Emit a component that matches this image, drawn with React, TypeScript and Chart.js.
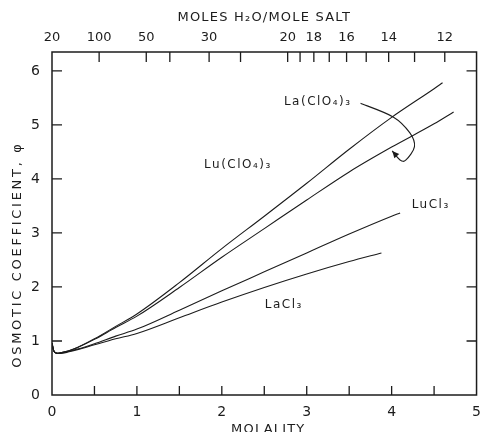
import React, { useEffect, useRef } from "react";
import { Chart, registerables } from "chart.js";

Chart.register(...registerables);

// ---- data (molality, osmotic coefficient) ----
const luClO4Molality = [0, 0.02, 0.06, 0.1, 0.2, 0.3, 0.5, 0.75, 1.0, 1.5, 2.0, 2.5, 3.0, 3.5, 4.0, 4.5, 4.6];
const luClO4Phi = [0.96, 0.82, 0.77, 0.78, 0.82, 0.88, 1.04, 1.27, 1.5, 2.08, 2.71, 3.31, 3.92, 4.55, 5.14, 5.67, 5.78];

const laClO4Molality = [0, 0.02, 0.06, 0.1, 0.2, 0.3, 0.5, 0.75, 1.0, 1.5, 2.0, 2.5, 3.0, 3.5, 4.0, 4.5, 4.73];
const laClO4Phi = [0.96, 0.82, 0.77, 0.78, 0.82, 0.88, 1.03, 1.25, 1.46, 1.99, 2.55, 3.08, 3.61, 4.13, 4.59, 5.02, 5.24];

const luCl3Molality = [0, 0.02, 0.06, 0.1, 0.2, 0.3, 0.5, 0.75, 1.0, 1.5, 2.0, 2.5, 3.0, 3.5, 4.0, 4.1];
const luCl3Phi = [0.96, 0.82, 0.77, 0.78, 0.81, 0.85, 0.95, 1.09, 1.22, 1.57, 1.93, 2.28, 2.63, 2.98, 3.31, 3.37];

const laCl3Molality = [0, 0.02, 0.06, 0.1, 0.2, 0.3, 0.5, 0.75, 1.0, 1.5, 2.0, 2.5, 3.0, 3.5, 3.88];
const laCl3Phi = [0.96, 0.82, 0.77, 0.77, 0.8, 0.84, 0.93, 1.04, 1.14, 1.43, 1.72, 1.99, 2.24, 2.47, 2.63];

const seriesNames = ["Lu(ClO₄)₃", "La(ClO₄)₃", "LuCl₃", "LaCl₃"];

// ---- axes ----
const xMin = 0;
const xMax = 5;
const xStep = 0.5;
const yMin = 0;
const yMax = 6.35;
const yStep = 1;

// top axis: moles H2O per mole salt, placed at molality = 55.51 / n
const WATER_MOLALITY = 55.51;
const waterMoles = [100, 50, 40, 30, 25, 20, 19, 18, 17, 16, 15, 14, 13, 12];
const waterLabels = ["100", "50", "", "30", "", "20", "", "18", "", "16", "", "14", "", "12"];
const topEdgeLabel = "20";

const xTitle = "MOLALITY";
const yTitle = "OSMOTIC COEFFICIENT, φ";
const topTitle = "MOLES H₂O/MOLE SALT";

// ---- annotation placement (data coords) ----
const seriesLabelPos: [number, number][] = [
  [2.19, 4.26],
  [3.13, 5.43],
  [4.46, 3.52],
  [2.73, 1.67],
];
const arrowPath: [number, number][] = [
  [3.634, 5.4],
  [4.018, 5.148],
  [4.215, 4.852],
  [4.269, 4.598],
  [4.169, 4.352],
  [4.099, 4.352],
  [4.007, 4.519],
];

const INK = "#1c1c1c";
const FONT = "'DejaVu Sans', 'Liberation Sans', sans-serif";

function toPoints(xs: number[], ys: number[]) {
  return xs.map((x, i) => ({ x, y: ys[i] }));
}

const decorPlugin = {
  id: "decor",
  beforeDatasetsDraw(chart: any) {
    const { ctx, chartArea: a, scales } = chart;
    ctx.save();
    ctx.strokeStyle = INK;
    ctx.lineWidth = 1.5;
    ctx.strokeRect(a.left, a.top, a.right - a.left, a.bottom - a.top);
    ctx.lineWidth = 1.3;
    ctx.beginPath();
    scales.x.ticks.forEach((t: any) => {
      if (t.value <= xMin || t.value >= xMax) return;
      const px = scales.x.getPixelForValue(t.value);
      ctx.moveTo(px, a.bottom);
      ctx.lineTo(px, a.bottom - 9);
    });
    scales.xTop.ticks.forEach((t: any) => {
      if (t.value <= xMin || t.value >= xMax) return;
      const px = scales.xTop.getPixelForValue(t.value);
      ctx.moveTo(px, a.top);
      ctx.lineTo(px, a.top + 10);
    });
    scales.y.ticks.forEach((t: any) => {
      if (t.value <= yMin) return;
      const py = scales.y.getPixelForValue(t.value);
      ctx.moveTo(a.left, py);
      ctx.lineTo(a.left + 10, py);
      ctx.moveTo(a.right, py);
      ctx.lineTo(a.right - 10, py);
    });
    ctx.stroke();
    ctx.restore();
  },
  afterDatasetsDraw(chart: any) {
    const { ctx, chartArea: a, scales } = chart;
    const sx = (v: number) => scales.x.getPixelForValue(v);
    const sy = (v: number) => scales.y.getPixelForValue(v);
    ctx.save();
    ctx.fillStyle = INK;
    ctx.strokeStyle = INK;
    ctx.textAlign = "center";
    ctx.textBaseline = "middle";
    (ctx as any).letterSpacing = "1.5px";
    ctx.font = `12px ${FONT}`;
    seriesNames.forEach((name, i) => {
      const [mx, my] = seriesLabelPos[i];
      ctx.fillText(name, sx(mx), sy(my));
    });

    // curved arrow
    const pts = arrowPath.map(([mx, my]) => [sx(mx), sy(my)]);
    ctx.lineWidth = 1.1;
    ctx.beginPath();
    ctx.moveTo(pts[0][0], pts[0][1]);
    for (let i = 0; i < pts.length - 1; i++) {
      const p0 = pts[Math.max(0, i - 1)];
      const p1 = pts[i];
      const p2 = pts[i + 1];
      const p3 = pts[Math.min(pts.length - 1, i + 2)];
      const c1x = p1[0] + (p2[0] - p0[0]) / 6;
      const c1y = p1[1] + (p2[1] - p0[1]) / 6;
      const c2x = p2[0] - (p3[0] - p1[0]) / 6;
      const c2y = p2[1] - (p3[1] - p1[1]) / 6;
      ctx.bezierCurveTo(c1x, c1y, c2x, c2y, p2[0], p2[1]);
    }
    ctx.stroke();
    const tip = pts[pts.length - 1];
    const prev = pts[pts.length - 2];
    const ang = Math.atan2(tip[1] - prev[1], tip[0] - prev[0]);
    const L = 7;
    const W = 3.2;
    ctx.beginPath();
    ctx.moveTo(tip[0], tip[1]);
    ctx.lineTo(tip[0] - L * Math.cos(ang) + W * Math.sin(ang), tip[1] - L * Math.sin(ang) - W * Math.cos(ang));
    ctx.lineTo(tip[0] - L * Math.cos(ang) - W * Math.sin(ang), tip[1] - L * Math.sin(ang) + W * Math.cos(ang));
    ctx.closePath();
    ctx.fill();

    // axis titles
    ctx.font = `13px ${FONT}`;
    (ctx as any).letterSpacing = "1.2px";
    const cx = (a.left + a.right) / 2;
    ctx.fillText(topTitle, cx, a.top - 34);
    ctx.fillText(xTitle, cx + 4, a.bottom + 35);
    (ctx as any).letterSpacing = "2.7px";
    ctx.translate(a.left - 34, sy(2.6));
    ctx.rotate(-Math.PI / 2);
    ctx.fillText(yTitle, 0, 0);
    ctx.restore();
  },
};

export default function App() {
  const canvasRef = useRef<HTMLCanvasElement | null>(null);

  useEffect(() => {
    if (!canvasRef.current) return;
    const lineStyle = {
      borderColor: INK,
      borderWidth: 1.1,
      pointRadius: 0,
      fill: false,
      cubicInterpolationMode: "monotone" as const,
    };
    const tickFont = { family: FONT, size: 14 };
    const chart = new Chart(canvasRef.current, {
      type: "line",
      data: {
        datasets: [
          { label: seriesNames[0], data: toPoints(luClO4Molality, luClO4Phi), ...lineStyle },
          { label: seriesNames[1], data: toPoints(laClO4Molality, laClO4Phi), ...lineStyle },
          { label: seriesNames[2], data: toPoints(luCl3Molality, luCl3Phi), ...lineStyle },
          { label: seriesNames[3], data: toPoints(laCl3Molality, laCl3Phi), ...lineStyle },
        ],
      },
      options: {
        animation: false,
        responsive: true,
        maintainAspectRatio: false,
        layout: { padding: { left: 0, right: 5, top: 0, bottom: 0 } },
        plugins: { legend: { display: false }, tooltip: { enabled: false } },
        scales: {
          x: {
            type: "linear",
            position: "bottom",
            min: xMin,
            max: xMax,
            grid: { display: false, drawTicks: false },
            border: { display: false },
            ticks: {
              stepSize: xStep,
              autoSkip: false,
              maxRotation: 0,
              padding: 9,
              color: INK,
              font: tickFont,
              callback: (v: any) => (Number.isInteger(Number(v)) ? String(v) : ""),
            },
            afterFit: (s: any) => {
              s.height = 37;
            },
          },
          xTop: {
            type: "linear",
            position: "top",
            min: xMin,
            max: xMax,
            grid: { display: false, drawTicks: false },
            border: { display: false },
            afterBuildTicks: (s: any) => {
              s.ticks = [{ value: xMin }, ...waterMoles.map((n) => ({ value: WATER_MOLALITY / n }))];
            },
            ticks: {
              autoSkip: false,
              maxRotation: 0,
              padding: 7,
              color: INK,
              font: { family: FONT, size: 13 },
              callback: (_v: any, i: number) => (i === 0 ? topEdgeLabel : waterLabels[i - 1]),
            },
            afterFit: (s: any) => {
              s.height = 52;
            },
          },
          y: {
            type: "linear",
            position: "left",
            min: yMin,
            max: yMax,
            grid: { display: false, drawTicks: false },
            border: { display: false },
            ticks: {
              stepSize: yStep,
              includeBounds: false,
              padding: 12,
              color: INK,
              font: tickFont,
            },
            afterFit: (s: any) => {
              s.width = 52;
            },
          },
        },
      },
      plugins: [decorPlugin],
    });
    return () => chart.destroy();
  }, []);

  return (
    <div style={{ position: "absolute", left: 0, top: 0, width: 490, height: 432, background: "#fff" }}>
      <canvas ref={canvasRef} />
    </div>
  );
}
